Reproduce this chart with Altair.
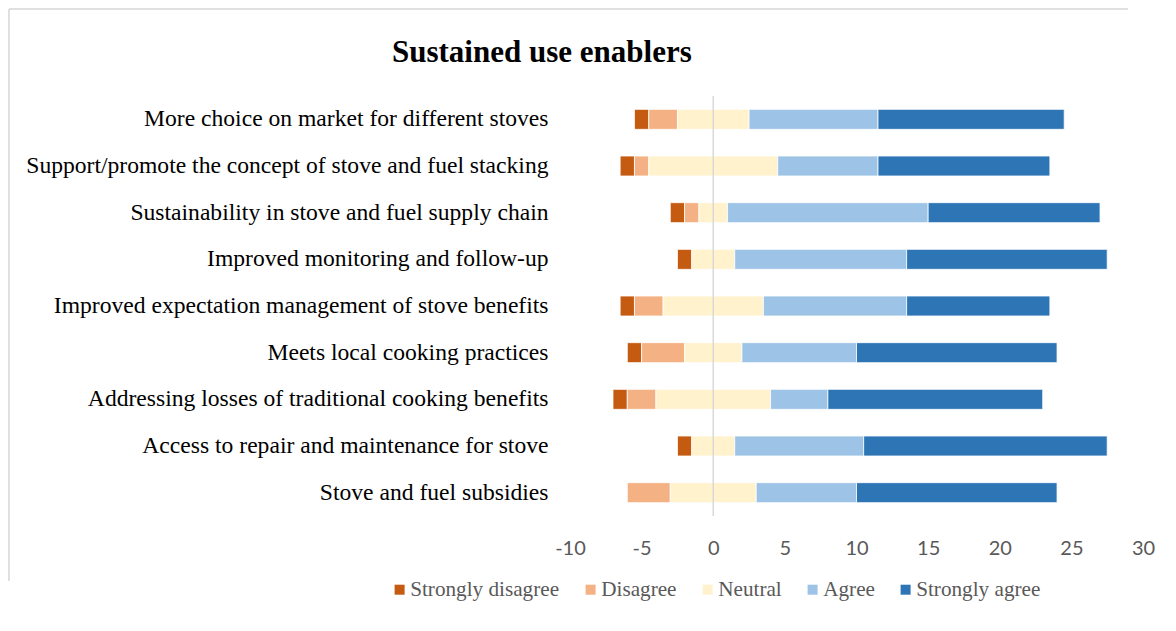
import altair as alt
import pandas as pd

title_text = "Sustained use enablers"
categories = [
    "More choice on market for different stoves",
    "Support/promote the concept of stove and fuel stacking",
    "Sustainability in stove and fuel supply chain",
    "Improved monitoring and follow-up",
    "Improved expectation management of stove benefits",
    "Meets local cooking practices",
    "Addressing losses of traditional cooking benefits",
    "Access to repair and maintenance for stove",
    "Stove and fuel subsidies",
]
levels = ["Strongly disagree", "Disagree", "Neutral", "Agree", "Strongly agree"]
strongly_disagree = [1, 1, 1, 1, 1, 1, 1, 1, 0]
disagree = [2, 1, 1, 0, 2, 3, 2, 0, 3]
neutral = [5, 9, 2, 3, 7, 4, 8, 3, 6]
agree = [9, 7, 14, 12, 10, 8, 4, 9, 7]
strongly_agree = [13, 12, 12, 14, 10, 14, 15, 17, 14]
colors = ["#C55A11", "#F4B183", "#FFF2CC", "#9DC3E6", "#2E75B6"]
x_ticks = [-10, -5, 0, 5, 10, 15, 20, 25, 30]

series = [strongly_disagree, disagree, neutral, agree, strongly_agree]
rows = []
for i, cat in enumerate(categories):
    start = -(strongly_disagree[i] + disagree[i] + neutral[i] / 2)
    for lvl, vals in zip(levels, series):
        v = vals[i]
        if v > 0:
            rows.append(dict(category=cat, level=lvl, value=v, start=start, end=start + v))
        start += v
df = pd.DataFrame(rows)

frame_top = alt.Chart(pd.DataFrame({"f": [0]})).mark_rule(color="#E0E0E0", strokeWidth=2).encode(
    x=alt.value(-561), x2=alt.value(558), y=alt.value(-87), y2=alt.value(-87)
)
frame_left = alt.Chart(pd.DataFrame({"g": [0]})).mark_rule(color="#E0E0E0", strokeWidth=2).encode(
    x=alt.value(-561), x2=alt.value(-561), y=alt.value(-87), y2=alt.value(485)
)

bars = alt.Chart(df).mark_bar(size=20, stroke="#FFFFFF", strokeWidth=0.8).encode(
    x=alt.X(
        "start:Q",
        scale=alt.Scale(domain=[-10, 30], nice=False, zero=False),
        axis=alt.Axis(
            values=x_ticks, title=None, grid=False, domain=False, ticks=False,
            labelFont="Lato", labelFontSize=20, labelColor="#595959", labelPadding=22,
            labelFlush=False, labelExpr="'' + datum.value",
        ),
    ),
    x2="end:Q",
    y=alt.Y(
        "category:N",
        sort=categories,
        scale=alt.Scale(paddingInner=0, paddingOuter=0),
        axis=alt.Axis(
            title=None, domain=False, ticks=False,
            labelFont="Liberation Serif", labelFontSize=23.6, labelColor="#000000",
            labelPadding=22, labelLimit=800,
        ),
    ),
    color=alt.Color(
        "level:N",
        scale=alt.Scale(domain=levels, range=colors),
        legend=alt.Legend(
            title=None, orient="none", legendX=-181, legendY=483, padding=0,
            direction="horizontal", columns=5,
            symbolType="square", symbolSize=100, symbolStrokeWidth=0,
            labelFont="Liberation Serif", labelFontSize=21.2, labelColor="#595959",
            columnPadding=20, labelOffset=0, labelLimit=400,
        ),
    ),
)

zero = alt.Chart(pd.DataFrame({"zero": [0]})).mark_rule(
    color="#D9D9D9", strokeWidth=1.5
).encode(x="zero:Q")

title = alt.Chart(pd.DataFrame({"t": [title_text]})).mark_text(
    font="Liberation Serif", fontSize=31, fontWeight="bold",
    align="left", baseline="middle", color="#000000",
).encode(x=alt.value(-178), y=alt.value(-43), text="t:N")

chart = alt.layer(frame_top, frame_left, bars, zero, title).properties(
    width=573,
    height=420,
    padding={"left": 562, "top": 88, "right": 15, "bottom": 95},
    autosize=alt.AutoSizeParams(type="none"),
).configure_view(strokeWidth=0)

chart.save("out.html", embed_options={"renderer": "svg", "actions": False})
